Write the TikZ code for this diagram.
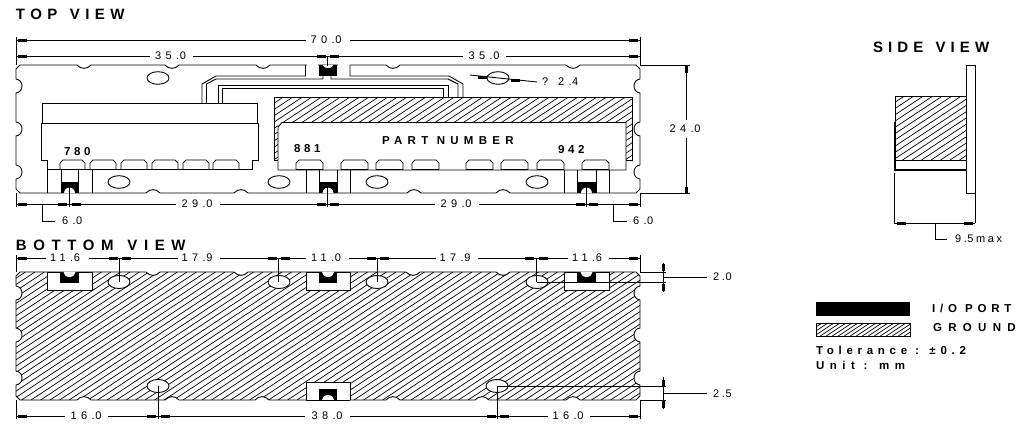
\documentclass[tikz,border=0pt]{standalone}
\usepackage{fontspec}
\setmainfont{Liberation Sans}
\newfontfamily\dimf[LetterSpace=40]{Liberation Sans}
\newfontfamily\titlef[LetterSpace=38]{Liberation Sans}
\newfontfamily\partf[LetterSpace=46]{Liberation Sans}
\newcommand\dimtxt[2][40]{{\dimf\fontsize{11}{13}\selectfont\addfontfeature{LetterSpace=#1}#2}}
\newcommand\dv[2]{\dimtxt{#1.\kern0.6pt #2}}
\newcommand\titletxt[2][38]{{\titlef\bfseries\fontsize{15}{17}\selectfont\addfontfeature{LetterSpace=#1}#2}}
\newcommand\boldtxt[2][46]{{\partf\bfseries\fontsize{11.5}{13}\selectfont\addfontfeature{LetterSpace=#1}#2}}
\newcommand\boardpath[6]{%
 (20,#1) \foreach \n in {#3}{ -- (\n-7,#1) .. controls (\n-3,#1+4.5) and (\n+3,#1+4.5) .. (\n+7,#1)}
 -- (636,#1) -- (640,#1+4)
 \foreach \n in {#5}{ -- (640,\n-7) .. controls (632,\n-6) and (632,\n+6) .. (640,\n+7)}
 -- (640,#2-4) -- (636,#2)
 \foreach \n in {#4}{ -- (\n+7,#2) .. controls (\n+3,#2-4.5) and (\n-3,#2-4.5) .. (\n-7,#2)}
 -- (20,#2) -- (16,#2-4)
 \foreach \n in {#6}{ -- (16,\n+7) .. controls (24,\n+6) and (24,\n-6) .. (16,\n-7)}
 -- (16,#1+4) -- cycle}
\newcommand\hatchlines[5]{% x0 y0 x1 y1 spacing
 \pgfmathsetmacro\hrun{(#4-#2)/0.66}
 \pgfmathsetmacro\hsecond{#1+#5}
 \pgfmathsetmacro\hend{#3+\hrun}
 \foreach \c in {#1,\hsecond,...,\hend}{\draw[hatchline] (\c,#2) -- (\c-\hrun,#4);}}
\newcommand\hm[2]{\fill (#1-4.5,#2-1.5) rectangle (#1+4.5,#2+1.5);}
\newcommand\vm[2]{\fill (#1-1.5,#2-3.5) rectangle (#1+1.5,#2+3.5);}
\newcommand\pad[2]{\draw[outl] (#1,169.5) -- (#1,163) -- (#1+3,160) -- (#2-3,160) -- (#2,163) -- (#2,169.5);
 \draw[line width=1.5pt] (#1,169.5) -- (#2,169.5);}
\begin{document}
\begin{tikzpicture}[x=1pt,y=-1pt,line width=0.9pt,
  outl/.style={draw=black,line width=0.9pt},
  hatchline/.style={draw=black,line width=0.7pt},
  lbl/.style={inner sep=0pt,outer sep=0pt,anchor=center},
  lblw/.style={inner sep=0pt,outer sep=0pt,anchor=west}]
\useasboundingbox (0,0) rectangle (1031,434);
\fill[white] (0,0) rectangle (1031,434);
% ---------- titles
\node[lblw] (ttop) at (16,14.5) {\titletxt[36]{TOP\kern3pt\ VIEW}};
\node[lblw] (tbot) at (16,245.5) {\titletxt[44]{BOTTOM\kern3pt\ VIEW}};
\node[lblw] (tside) at (873,47.5) {\titletxt[34]{SIDE\kern3pt\ VIEW}};
% ---------- TOP VIEW
\draw[outl] \boardpath{65}{193}{84,172,263,393,573}{503,414,241,153}{86,129,172}{172,129,86};
\draw[white,line width=2pt] (306.5,65) -- (318,65) (338,65) -- (349.5,65);
\foreach \a/\b in {158/78,119/182,279/182,377/182,537/182,498/78}
  \draw[outl] (\a,\b) ellipse [x radius=11,y radius=6.3];
% traces
\draw[outl] (305.5,65) -- (305.5,76) -- (216,76) -- (202,84) -- (202,103);
\draw[outl] (323,75) -- (323,79) -- (216,79) -- (206.5,84) -- (206.5,103);
\draw[outl] (218,103) -- (218,85.5) -- (448,85.5) -- (448,97);
\draw[outl] (222,103) -- (222,88.5) -- (443,88.5) -- (443,97);
\draw[outl] (331,75) -- (331,79) -- (448,79) -- (458,84) -- (458,97);
\draw[outl] (350,65) -- (350,76) -- (449,76) -- (463,84) -- (463,97);
% left module
\draw[outl] (42,103) rectangle (257,123);
\draw[outl] (41,123) -- (258,123) -- (258,160) -- (252,160) -- (252,169.5) -- (47,169.5) -- (47,160) -- (41,160) -- cycle;
\pad{60}{85}\pad{90}{116}\pad{121}{147}\pad{152}{178}\pad{183}{209}\pad{213}{239}
% right module: shield
\begin{scope}
 \clip (274,97) -- (632,97) -- (632,160.5) -- (626,160.5) -- (626,122.5) -- (278,122.5) -- (278,160.5) -- (274,160.5) -- cycle;
 \hatchlines{274}{97}{632}{161}{9.5}
\end{scope}
\draw[outl] (274,97) -- (632,97) -- (632,160.5) -- (626,160.5);
\draw[outl] (278,160.5) -- (274,160.5) -- (274,97);
\draw[outl,fill=white] (278,170) -- (278,127) -- (282,122.5) -- (626,122.5) -- (626,170) -- cycle;
\pad{296}{323}\pad{341}{368}\pad{376}{403}\pad{412}{439}\pad{466}{493}\pad{501}{528}\pad{537}{564}\pad{582}{609}
% ports, bottom edge of top view
\foreach \l/\m/\r/\s/\c/\t/\u in {47/61/78/92/69.5/169.5/182, 306/319/337/350/328/170/182, 564/577/596/609/586.5/170/182}{
 \draw[outl] (\l,\t) -- (\l,193) (\m,\t) -- (\m,193) (\r,\t) -- (\r,193) (\s,\t) -- (\s,193);
 \fill (\m,\u) rectangle (\r,193);
 \draw[outl,fill=white] (\c-6,193) arc [start angle=180,end angle=360,radius=6];
}
% top port
\fill (319,65) rectangle (337,76);
\draw[outl,fill=white] (322,65) .. controls (323,70) and (333,70) .. (334,65);
% labels on parts
\node[lblw] (t780) at (64,152) {\boldtxt[32]{780}};
\node[lblw] (t881) at (294,149) {\boldtxt[32]{881}};
\node[lblw] (t942) at (558,150) {\boldtxt[32]{942}};
\node[lblw] (tpn) at (382,141) {\boldtxt{PART NUMBER}};
% dims top view
\draw[outl] (16,37) -- (16,65) (640,37) -- (640,66);
\draw[outl] (16,40) -- (306,40) (350,40) -- (640,40);
\node[lbl] (d70) at (326,40) {\dv{70}{0}};
\hm{22}{40}\hm{633}{40}
\draw[outl] (16,56) -- (150,56) (193,56) -- (463,56) (506,56) -- (640,56);
\node[lbl] (d35a) at (170.5,56) {\dv{35}{0}};
\node[lbl] (d35b) at (484,56) {\dv{35}{0}};
\hm{22}{56}\hm{321}{56}\hm{334}{56}\hm{633}{56}
\draw[outl] (327.5,56) -- (327.5,66);
% lower dims
\draw[outl] (16,193) -- (16,207) (640,193) -- (640,207);
\draw[outl] (16,204) -- (176,204) (220,204) -- (435,204) (479,204) -- (640,204);
\node[lbl] (d29a) at (197,204) {\dv{29}{0}};
\node[lbl] (d29b) at (456,204) {\dv{29}{0}};
\hm{22}{204}\hm{62}{204}\hm{76}{204}\hm{321}{204}\hm{334}{204}\hm{580}{204}\hm{593}{204}\hm{633}{204}
\draw[outl] (69,187) -- (69,207) (327.5,187) -- (327.5,207) (586.5,187) -- (586.5,207);
\draw[outl] (42.5,204) -- (42.5,221) -- (55,221);
\node[lblw] (d6a) at (62,221) {\dv{6}{0}};
\draw[outl] (613,204) -- (613,221) -- (627,221);
\node[lblw] (d6b) at (633,221) {\dv{6}{0}};
% 24 dimension
\draw[outl] (640,65) -- (690,65) (640,193) -- (690,193);
\draw[outl] (686.5,65) -- (686.5,120) (686.5,138) -- (686.5,193);
\node[lbl] (d24) at (685,129) {\dv{24}{0}};
\vm{686.5}{69}\vm{686.5}{190}
% diameter
\draw[outl] (470,75) -- (537,82);
\hm{482}{77}\hm{515}{80}
\node[lblw] (dphi) at (542,82) {\dv{? 2}{4}};
% ---------- BOTTOM VIEW
\begin{scope}
 \clip \boardpath{272}{400}{153,241,413,503}{573,482,393,262,172,84}{293,335,378}{378,335,293};
 \hatchlines{16}{272}{640}{400}{9.5}
\end{scope}
\draw[outl] \boardpath{272}{400}{153,241,413,503}{573,482,393,262,172,84}{293,335,378}{378,335,293};
\foreach \a/\b in {119/282,279/282,377/282,537/282,158/386,497/386}
  \draw[outl,fill=white] (\a,\b) ellipse [x radius=11,y radius=6.5];
\foreach \l/\m/\r/\s/\c in {47/60/79/92/69.5, 306/319/337/350/328, 564/577/596/609/586.5}{
 \draw[outl,fill=white] (\l,272) rectangle (\s,290);
 \fill (\m,272) rectangle (\r,283);
 \fill[white] (\c-6,271.5) -- (\c-6,272) arc [start angle=180,end angle=0,x radius=6,y radius=5] -- (\c+6,271.5) -- cycle;
}
\draw[outl,fill=white] (306,400) -- (306,382) -- (350,382) -- (350,400);
\fill (319,389) rectangle (337,400);
\fill[white] (322,400) arc [start angle=180,end angle=360,x radius=6,y radius=5] -- cycle;
\draw[outl] (306,400) -- (350,400);
% dims bottom view
\draw[outl] (16,255) -- (16,272) (640,255) -- (640,273);
\draw[outl] (16,258) -- (46,258) (89,258) -- (178,258) (220,258) -- (306,258) (349,258) -- (436,258) (478,258) -- (568,258) (609,258) -- (640,258);
\node[lbl] (b116a) at (65,258) {\dv{11}{6}};
\node[lbl] (b179a) at (197,258) {\dv{17}{9}};
\node[lbl] (b110) at (326,258) {\dv{11}{0}};
\node[lbl] (b179b) at (455,258) {\dv{17}{9}};
\node[lbl] (b116b) at (587,258) {\dv{11}{6}};
\hm{22}{258}\hm{113}{258}\hm{126}{258}\hm{272}{258}\hm{285}{258}\hm{371}{258}\hm{384}{258}\hm{529}{258}\hm{543}{258}\hm{633}{258}
\foreach \a in {119.5,278.5,377.5,536.5} \draw[outl] (\a,258) -- (\a,282);
\draw[outl] (16,400) -- (16,419) (640,400) -- (640,419);
\draw[outl] (16,416) -- (65,416) (108,416) -- (305,416) (350,416) -- (548,416) (590,416) -- (640,416);
\node[lbl] (b16a) at (86,416) {\dv{16}{0}};
\node[lbl] (b38) at (327,416) {\dv{38}{0}};
\node[lbl] (b16b) at (568,416) {\dv{16}{0}};
\hm{22}{416}\hm{151}{416}\hm{165}{416}\hm{491}{416}\hm{504}{416}\hm{633}{416}
\draw[outl] (158,386) -- (158,419) (497,386) -- (497,419);
% 2.0
\draw[outl] (640,272) -- (666,272) (537,282) -- (666,282);
\draw[outl] (663,263) -- (663,292) (663,277) -- (707,277);
\vm{663}{267}\vm{663}{287}
\node[lblw] (d20) at (713,277) {\dimtxt[25]{2.\kern0.6pt 0}};
% 2.5
\draw[outl] (498,386) -- (666,386) (640,400) -- (666,400);
\draw[outl] (663,377) -- (663,409) (663,393.5) -- (707,393.5);
\vm{663}{383}\vm{663}{404}
\node[lblw] (d25) at (713,393.5) {\dimtxt[25]{2.\kern0.6pt 5}};
% ---------- SIDE VIEW
\draw[outl] (966,65) rectangle (975,193);
\begin{scope}
 \clip (895,96) rectangle (966,160);
 \hatchlines{895}{96}{966}{160}{9.5}
\end{scope}
\draw[outl] (895,96) rectangle (966,160);
\draw[outl] (895,160) -- (895,170);
\draw[line width=1.5pt] (894,170) -- (966,170);
\draw[outl] (894,122) -- (894,170);
\draw[outl] (894,173) -- (894,223) (975,193) -- (975,223) (894,223) -- (975,223);
\hm{901}{223}\hm{968}{223}
\draw[outl] (935,223) -- (935,239) -- (947,239);
\node[lblw] (d95) at (955,239) {\dimtxt[24]{9.\kern0.6pt 5max}};
% ---------- LEGEND
\fill (816,302) rectangle (910,316);
\begin{scope}
 \clip (816,323) rectangle (910,336);
 \hatchlines{816}{323}{910}{336}{6}
\end{scope}
\draw[outl] (816,323) rectangle (910,336);
\node[lblw] (lio) at (932,308) {\boldtxt[42]{I/O PORT}};
\node[lblw] (lgr) at (933,328) {\boldtxt[55]{GROUND}};
\node[lblw] (ltol) at (816,350) {\boldtxt[41]{Tolerance : ±0.2}};
\node[lblw] (lunit) at (816,365) {\boldtxt[48]{Unit : mm}};
\end{tikzpicture}
\end{document}
